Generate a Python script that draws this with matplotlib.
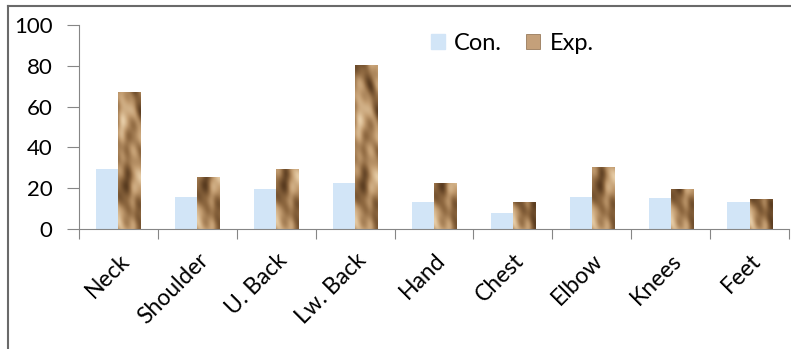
import matplotlib.pyplot as plt
from matplotlib.colors import LinearSegmentedColormap
from matplotlib.lines import Line2D
from matplotlib.patches import Patch
import numpy as np

# data
parts = ['Neck', 'Shoulder', 'U. Back', 'Lw. Back', 'Hand', 'Chest', 'Elbow', 'Knees', 'Feet']
con = [29.5, 15.5, 19.5, 22.5, 13, 8, 15.5, 15, 13]
exp = [67, 25.5, 29.5, 80.5, 22.5, 13, 30.5, 19.5, 14.5]

plt.rcParams['font.family'] = ['Lato', 'DejaVu Sans']

fig = plt.figure(figsize=(7.91, 3.49), dpi=100)
ax = fig.add_axes([79 / 791, 1 - 229 / 349, 710 / 791, 204 / 349])

x = np.arange(len(parts))
w = 0.28
con_bars = ax.bar(x - w / 2, con, w, color='#d2e5f7', zorder=2)
exp_bars = ax.bar(x + w / 2, exp, w, color='#c4a07a', zorder=2)

# crumpled paper texture for the Exp. bars
cmap = LinearSegmentedColormap.from_list('paper', ['#5a3c20', '#8e6840', '#c29c70', '#e6cca6'])
ny, nx = 400, 40
yy, xx = np.mgrid[0:100:ny * 1j, 0:1:nx * 1j]
tex = (np.sin(0.16 * yy + 2.5 * np.sin(4 * xx + 0.05 * yy)) + 0.8 * np.sin(3.5 * xx + 0.11 * yy + 1)
       + 0.5 * np.sin(0.3 * yy - 6 * xx) + 0.25 * np.sin(0.7 * yy + 9 * xx))
for b in exp_bars:
    h = b.get_height()
    rows = max(2, int(ny * h / 100))
    im = ax.imshow(tex[:rows], extent=[b.get_x(), b.get_x() + b.get_width(), 0, h],
                   cmap=cmap, aspect='auto', origin='lower', zorder=2.5, interpolation='bilinear')
    im.set_clip_path(b)

ax.set_xlim(-0.5, len(parts) - 0.5)
ax.set_ylim(0, 100)
ax.set_yticks(np.arange(0, 101, 20))
ax.set_xticks(np.arange(len(parts) + 1) - 0.5)
ax.set_xticklabels([])
ax.set_xticks(x, minor=True)
ax.set_xticklabels(parts, minor=True, rotation=45, ha='right', rotation_mode='anchor', fontsize=16.5)
ax.tick_params(axis='x', which='minor', length=0, pad=15)
ax.tick_params(axis='x', which='major', length=7, color='#868686', direction='out')
ax.tick_params(axis='y', length=9, color='#868686', labelsize=16, pad=10)

for s in ['top', 'right']:
    ax.spines[s].set_visible(False)
for s in ['left', 'bottom']:
    ax.spines[s].set_color('#868686')

handles = [Patch(color='#d2e5f7'), Patch(facecolor='#c4a07a', edgecolor='#8a6a48', lw=0.5)]
ax.legend(handles, ['Con.', 'Exp.'], loc='center', bbox_to_anchor=(0.61, 0.91), ncol=2,
          frameon=False, fontsize=17, handlelength=0.6, handleheight=0.6,
          handletextpad=0.4, columnspacing=1.0)

# outer frame (left and top edges visible)
fig.add_artist(Line2D([8 / 791, 8 / 791], [0, 1 - 6 / 349], color='#6a6a6a', lw=1.5))
fig.add_artist(Line2D([8 / 791, 1], [1 - 6 / 349, 1 - 6 / 349], color='#6a6a6a', lw=1.5))

fig.savefig('out.png', dpi=100)
